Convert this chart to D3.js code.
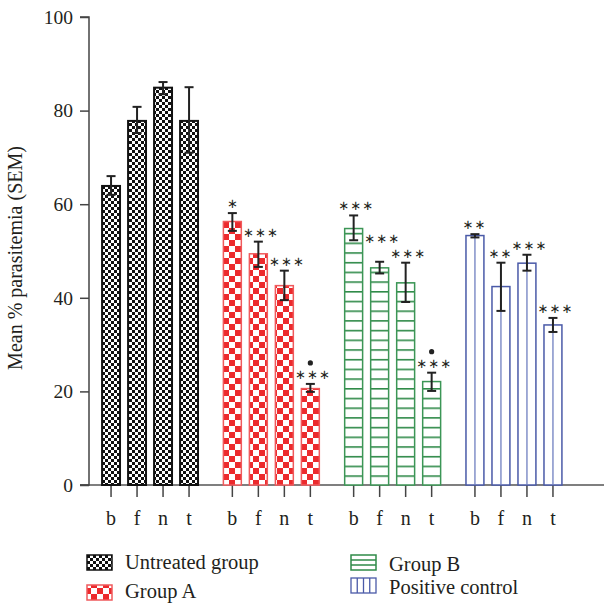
<!DOCTYPE html>
<html><head><meta charset="utf-8">
<script src="https://cdn.jsdelivr.net/npm/d3@7"></script>
<style>
html,body{margin:0;padding:0;background:#fff;}
svg text{font-family:"Liberation Serif","DejaVu Serif",serif;fill:#231f20;}
</style></head>
<body>
<svg id="chart" width="604" height="605"></svg>
<script>
const groups = ["Untreated group","Group A","Group B","Positive control"];
const categories = ["b","f","n","t"];
const yTicks = [0,20,40,60,80,100];
const meanUntreated = [63.9, 77.8, 84.9, 77.8];
const errLoUntreated = [62.0, 75.2, 83.5, 71.0];
const errHiUntreated = [66.0, 80.8, 86.1, 85.0];
const meanA = [56.3, 49.4, 42.6, 20.6];
const errLoA = [54.3, 46.6, 39.5, 19.9];
const errHiA = [58.1, 52.0, 45.8, 21.6];
const meanB = [54.8, 46.4, 43.2, 22.1];
const errLoB = [52.3, 45.2, 39.1, 20.1];
const errHiB = [57.6, 47.7, 47.5, 24.0];
const meanPC = [53.3, 42.4, 47.4, 34.2];
const errLoPC = [52.9, 37.2, 45.8, 32.7];
const errHiPC = [53.6, 47.5, 49.2, 35.7];
const starsUntreated = [0,0,0,0];
const starsA = [1,3,3,3];
const starsB = [3,3,3,3];
const starsPC = [2,2,3,3];
const dotA = [false,false,false,true];
const dotB = [false,false,false,true];

const series = [
  {name:groups[0], mean:meanUntreated, lo:errLoUntreated, hi:errHiUntreated, stars:starsUntreated, dot:[false,false,false,false]},
  {name:groups[1], mean:meanA, lo:errLoA, hi:errHiA, stars:starsA, dot:dotA},
  {name:groups[2], mean:meanB, lo:errLoB, hi:errHiB, stars:starsB, dot:dotB},
  {name:groups[3], mean:meanPC, lo:errLoPC, hi:errHiPC, stars:starsPC, dot:[false,false,false,false]}
];
const colors = ["#1a1a1a","#ec2a2d","#2f8a48","#4a5aa8"];

const svg = d3.select("#chart");
const defs = svg.append("defs");
let p = defs.append("pattern").attr("id","pat0").attr("patternUnits","userSpaceOnUse").attr("width",6).attr("height",6);
p.append("rect").attr("width",6).attr("height",6).attr("fill","#fff");
p.append("rect").attr("width",3).attr("height",3).attr("fill","#111");
p.append("rect").attr("x",3).attr("y",3).attr("width",3).attr("height",3).attr("fill","#111");
p = defs.append("pattern").attr("id","pat1").attr("patternUnits","userSpaceOnUse").attr("width",12).attr("height",12).attr("x",1);
p.append("rect").attr("width",12).attr("height",12).attr("fill","#fff");
p.append("rect").attr("width",6).attr("height",6).attr("fill",colors[1]);
p.append("rect").attr("x",6).attr("y",6).attr("width",6).attr("height",6).attr("fill",colors[1]);
p = defs.append("pattern").attr("id","pat2").attr("patternUnits","userSpaceOnUse").attr("width",20).attr("height",9.7).attr("y",485);
p.append("rect").attr("width",20).attr("height",9.7).attr("fill","#fff");
p.append("line").attr("x1",0).attr("x2",20).attr("y1",0.8).attr("y2",0.8).attr("stroke",colors[2]).attr("stroke-width",1.6);

const y = d3.scaleLinear().domain([0,100]).range([485,17]);
const xg = d3.scaleBand().domain(groups).range([89.4,574.6]).padding(0);
const xc = d3.scaleBand().domain(categories).range([0,xg.bandwidth()]).paddingInner(0.31).paddingOuter(0.4875);

svg.append("line").attr("x1",80).attr("x2",604).attr("y1",y(0)).attr("y2",y(0)).attr("stroke","#555").attr("stroke-width",1.5);
const yAxis = d3.axisLeft(y).tickValues(yTicks).tickSize(9).tickPadding(7);
const gy = svg.append("g").attr("transform","translate(89,0)").call(yAxis);
gy.select(".domain").attr("stroke","#444").attr("stroke-width",1.5).attr("d","M-9,17H0V485H-9");
gy.selectAll(".tick line").attr("stroke","#444").attr("stroke-width",1.5);
gy.selectAll(".tick text").style("font-size","19.5px").style("font-family","Liberation Serif").attr("fill","#231f20");

svg.append("text").attr("transform","translate(22,258) rotate(-90)").attr("text-anchor","middle")
  .style("font-size","20px").text("Mean % parasitemia (SEM)");

groups.forEach((g,gi)=>{
  const ax = d3.axisBottom(xc).tickSize(12).tickPadding(14);
  const ga = svg.append("g").attr("transform",`translate(${xg(g)},${y(0)})`).call(ax);
  ga.select(".domain").remove();
  ga.selectAll(".tick line").attr("stroke","#444").attr("stroke-width",1.5);
  ga.selectAll(".tick text").style("font-size","20px").style("font-family","Liberation Serif").attr("fill","#231f20");
});

const starStep = 12, starGap = 9.5, starFont = 13, starHalf = 5.5, starClear = 15;
series.forEach((s,si)=>{
  const g = svg.append("g");
  const data = categories.map((c,i)=>({c, i, v:s.mean[i], lo:s.lo[i], hi:s.hi[i], st:s.stars[i], dot:s.dot[i]}));
  const bx = d=>xg(s.name)+xc(d.c);
  const bw = xc.bandwidth();
  const fills = ["url(#pat0)","url(#pat1)","url(#pat2)","#fff"];
  const strokeW = [2,1.5,1.5,1.5];
  const strokeC = ["#111","#f05a5c","#3c9656","#4a5aa8"];
  g.selectAll("rect.bar").data(data).join("rect")
    .attr("x",d=>bx(d)).attr("y",d=>y(d.v)).attr("width",bw).attr("height",d=>y(0)-y(d.v))
    .attr("fill",fills[si]).attr("stroke",strokeC[si]).attr("stroke-width",strokeW[si]);
  if(si===3){
    g.selectAll("line.vl").data(data).join("line")
      .attr("x1",d=>bx(d)+bw/2).attr("x2",d=>bx(d)+bw/2)
      .attr("y1",d=>y(d.v)).attr("y2",y(0)).attr("stroke","#6f7fc0").attr("stroke-width",1.3);
  }
  const cx = d=>bx(d)+bw/2;
  g.selectAll("line.eb").data(data).join("line")
    .attr("x1",cx).attr("x2",cx).attr("y1",d=>y(d.hi)).attr("y2",d=>y(d.lo))
    .attr("stroke","#222").attr("stroke-width",2);
  ["hi","lo"].forEach(k=>{
    g.selectAll("line.cap"+k).data(data).join("line")
      .attr("x1",d=>cx(d)-4.5).attr("x2",d=>cx(d)+4.5).attr("y1",d=>y(d[k])).attr("y2",d=>y(d[k]))
      .attr("stroke","#222").attr("stroke-width",2);
  });
  const labels = data.filter(d=>d.st>0).map(d=>{
    const off = d.st===3 ? 2 : (d.st===2 ? -1 : 0);
    const c = cx(d)+off;
    const half = (d.st-1)/2*starStep + starHalf;
    return {d, c, x0:c-half, x1:c+half, yc:y(d.hi)-starGap};
  });
  for(let k=labels.length-2;k>=0;k--){
    const a=labels[k], b=labels[k+1];
    if(a.x1>b.x0 && Math.abs(a.yc-b.yc)<starClear) a.yc = Math.min(a.yc, b.yc-starClear);
  }
  labels.forEach(L=>{
    for(let j=0;j<L.d.st;j++){
      g.append("text").attr("x",L.c+(j-(L.d.st-1)/2)*starStep).attr("y",L.yc+starFont*0.34)
        .attr("text-anchor","middle").style("font-family","DejaVu Sans").style("font-size",starFont+"px")
        .attr("fill","#444").text("∗");
    }
    if(L.d.dot){
      g.append("circle").attr("cx",cx(L.d)).attr("cy",L.yc-11.5).attr("r",2.6).attr("fill","#222");
    }
  });
});

const leg = svg.append("g");
const legPos = [[87,555],[87,585],[351,555],[351,578]];
const legText = [[125,569],[125,598],[389,571],[389,594]];
groups.forEach((gname,i)=>{
  const [lx,ly] = legPos[i];
  const w=25,h=15;
  if(i===0){
    leg.append("rect").attr("x",lx).attr("y",ly).attr("width",w).attr("height",h).attr("fill","url(#pat0)").attr("stroke","#111").attr("stroke-width",1.5);
  } else if(i===1){
    leg.append("rect").attr("x",lx).attr("y",ly).attr("width",w).attr("height",h).attr("fill","url(#pat1)").attr("stroke","#f05a5c").attr("stroke-width",1.5);
  } else if(i===2){
    leg.append("rect").attr("x",lx).attr("y",ly).attr("width",w).attr("height",h).attr("fill","#fff").attr("stroke",colors[2]).attr("stroke-width",1.5);
    [1,2].forEach(k=>leg.append("line").attr("x1",lx).attr("x2",lx+w).attr("y1",ly+k*h/3).attr("y2",ly+k*h/3).attr("stroke",colors[2]).attr("stroke-width",1.5));
  } else {
    leg.append("rect").attr("x",lx).attr("y",ly).attr("width",w).attr("height",h).attr("fill","#fff").attr("stroke",colors[3]).attr("stroke-width",1.3);
    [1,2,3].forEach(k=>leg.append("line").attr("x1",lx+k*w/4).attr("x2",lx+k*w/4).attr("y1",ly).attr("y2",ly+h).attr("stroke",colors[3]).attr("stroke-width",1.3));
  }
  leg.append("text").attr("x",legText[i][0]).attr("y",legText[i][1]).style("font-size","20.5px").text(gname);
});
</script>
</body></html>
